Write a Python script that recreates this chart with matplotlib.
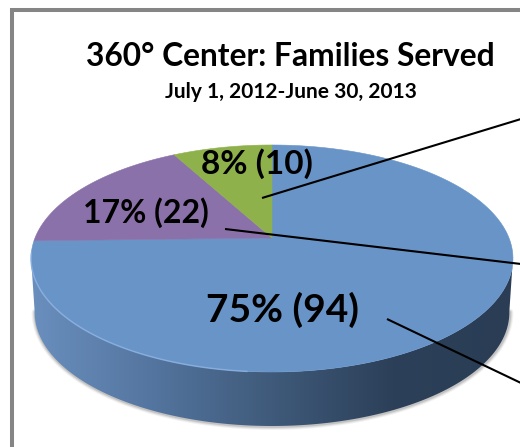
"""360 Center families pie, drawn as a tilted 3D disc in pixel coordinates."""

import matplotlib

matplotlib.use("Agg")
import matplotlib.pyplot as plt
import numpy as np
from matplotlib.colors import LinearSegmentedColormap
from matplotlib.patches import Polygon

# clockwise from 12 o'clock
families = [94, 22, 10]
labels = ["75% (94)", "17% (22)", "8% (10)"]
title = "360° Center: Families Served"
subtitle = "July 1, 2012-June 30, 2013"

colors = ["#6894C8", "#8B71A9", "#8FB14B"]
label_pos = [(282, 310), (146, 213), (257, 164)]
label_size = [28, 23, 24]

# perspective of the disc, found from the edges in the picture
CX, CY = 272, 238
RADIUS_X, RADIUS_Y, TILT = 237, 109.8, 0.1806
DEPTH = 54
BASE_SCALE = 0.985

# leader lines that run off the right side
leaders = [((262, 198), (521, 119)), ((225, 229), (521, 264)), ((387, 319), (521, 383))]


def disc_xy(theta):
    """Map an angle, clockwise from the top in radians, on to the tilted disc."""
    w = 1 + TILT * np.cos(theta)
    return CX + RADIUS_X * np.sin(theta) / w, CY - RADIUS_Y * np.cos(theta) / w


fig = plt.figure(figsize=(5.2, 4.47), dpi=100, facecolor="white")
ax = fig.add_axes([0, 0, 1, 1])
ax.set_xlim(0, 520)
ax.set_ylim(447, 0)
ax.axis("off")

# outer frame, cut off at the top right and the bottom
ax.plot([12, 12, 521], [448, 9.5, 9.5], color="#858585", lw=2.9, solid_joinstyle="miter")

# side wall and its soft shadow
t = np.linspace(0, 2 * np.pi, 361)
x, y = disc_xy(t)
lower = np.cos(t) < -TILT + 0.02
order = np.argsort(x[lower])
wall_x, wall_y = x[lower][order], y[lower][order]
base_x = CX + (wall_x - CX) * BASE_SCALE
outline = np.concatenate(
    [np.column_stack([wall_x, wall_y]), np.column_stack([base_x, wall_y + DEPTH])[::-1]]
)
for lw, alpha in [(5, 0.08), (3.5, 0.12), (2, 0.2)]:
    ax.plot(
        base_x + 0.5,
        wall_y + DEPTH + 0.5,
        color="#555555",
        lw=lw,
        alpha=alpha,
        solid_capstyle="round",
    )
wall_cmap = LinearSegmentedColormap.from_list(
    "wall", ["#6A8FBE", "#54759F", "#3F5A7A", "#2C4059", "#2A3D55"]
)
clip = Polygon(outline, closed=True, facecolor="none", edgecolor="none")
ax.add_patch(clip)
image = ax.imshow(
    np.linspace(0, 1, 256)[None, :],
    cmap=wall_cmap,
    extent=(wall_x.min(), wall_x.max(), 447, 200),
    aspect="auto",
    zorder=2,
)
image.set_clip_path(clip)
ax.set_xlim(0, 520)
ax.set_ylim(447, 0)

# wedges, each from the apex out to its arc
edges = np.cumsum([0] + families) / sum(families) * 2 * np.pi
for start, end, color in zip(edges[:-1], edges[1:], colors):
    arc = np.linspace(start, end, 200)
    arc_x, arc_y = disc_xy(arc)
    points = np.column_stack([np.r_[CX, arc_x], np.r_[CY, arc_y]])
    ax.add_patch(Polygon(points, closed=True, facecolor=color, edgecolor=color, lw=0.4, zorder=3))

# light rim on the lower left of the top face
rim = np.linspace(np.radians(185), np.radians(262), 80)
rx, ry = disc_xy(rim)
ax.plot(rx, ry, color="#8DB3E2", lw=1.1, alpha=0.8, zorder=4)

for (x0, y0), (x1, y1) in leaders:
    ax.plot([x0, x1], [y0, y1], color="black", lw=1.5, zorder=5, solid_capstyle="butt")

font = ["Lato", "DejaVu Sans"]
ax.text(290.5, 57, title, ha="center", va="center", fontsize=22.9, fontweight="bold", family=font, zorder=6)
ax.text(290.5, 92, subtitle, ha="center", va="center", fontsize=15, fontweight="bold", family=font, zorder=6)
for text, pos, size in zip(labels, label_pos, label_size):
    ax.text(pos[0], pos[1], text, ha="center", va="center", fontsize=size, fontweight="bold", family=font, zorder=6)

fig.savefig("out.png", dpi=100, facecolor="white")
